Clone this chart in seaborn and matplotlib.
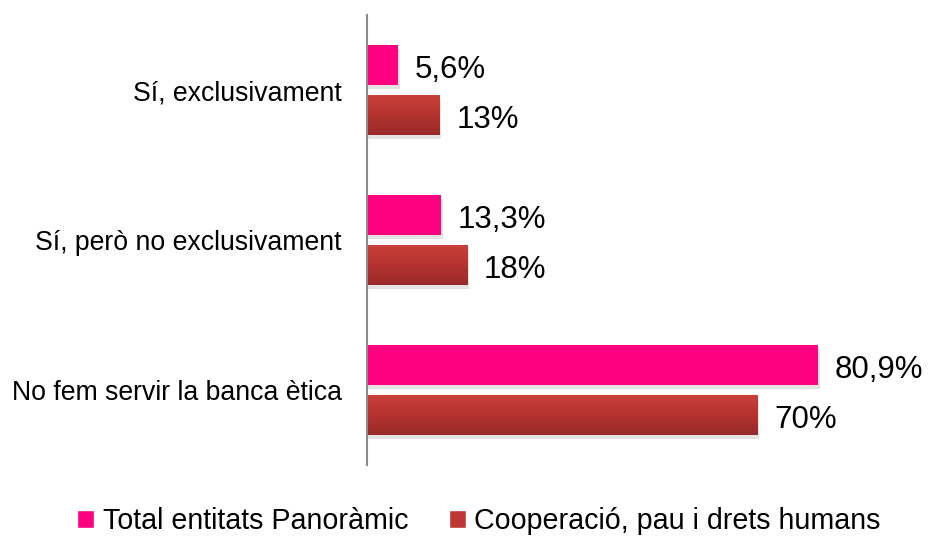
import numpy as np
import pandas as pd
import matplotlib
matplotlib.use("Agg")
import matplotlib.pyplot as plt
import matplotlib.patheffects as pe
from matplotlib.colors import LinearSegmentedColormap
from matplotlib.patches import Patch
import seaborn as sns

categories = ["Sí, exclusivament", "Sí, però no exclusivament", "No fem servir la banca ètica"]
series = ["Total entitats Panoràmic", "Cooperació, pau i drets humans"]
total_vals = [5.6, 13.3, 80.9]
coop_vals = [13, 18, 70]
total_labels = ["5,6%", "13,3%", "80,9%"]
coop_labels = ["13%", "18%", "70%"]

PINK = "#FF0080"
RED = "#BE3733"

df = pd.DataFrame({
    "cat": categories * 2,
    "serie": [series[0]] * 3 + [series[1]] * 3,
    "val": total_vals + coop_vals,
})

sns.set_style("white")
plt.rcParams["font.family"] = ["Liberation Sans", "DejaVu Sans"]
plt.rcParams["text.color"] = "black"
plt.rcParams["ytick.color"] = "black"

fig = plt.figure(figsize=(9.3, 5.39), dpi=100)
ax = fig.add_axes([0.3946, 0.137, 0.6, 0.835])

sns.barplot(data=df, x="val", y="cat", hue="serie", orient="h",
            palette={series[0]: PINK, series[1]: RED}, saturation=1,
            width=0.667, gap=0.2, ax=ax, legend=False)

# gradient fill on the second series + soft shadow on all bars
cmap = LinearSegmentedColormap.from_list("redgrad", ["#CB413B", "#B5332F", "#992A2A"])
grad = np.linspace(0, 1, 64).reshape(-1, 1)
for patch in ax.containers[1]:
    x0, y0 = patch.get_x(), patch.get_y()
    w, h = patch.get_width(), patch.get_height()
    im = ax.imshow(grad, cmap=cmap, aspect="auto", extent=[x0, x0 + w, y0 + h, y0],
                   origin="upper", zorder=patch.get_zorder() + 0.1)
    im.set_clip_path(patch)
for cont in ax.containers:
    for patch in cont:
        patch.set_edgecolor("none")
        patch.set_path_effects([pe.SimplePatchShadow(offset=(1, -3), alpha=0.15, shadow_rgbFace="#444444"), pe.Normal()])
ax.set_xlim(0, 100)
ax.set_ylim(2.5, -0.5)

for cont, labs in zip(ax.containers, [total_labels, coop_labels]):
    texts = ax.bar_label(cont, labels=labs, padding=12, fontsize=22.5, color="black")
    for t in texts:
        t.xyann = (12, -3.5)

ax.set_xlabel("")
ax.set_ylabel("")
ax.set_xticks([])
ax.tick_params(axis="y", length=0, pad=18, labelsize=19.2, labelcolor="black")
for s in ["top", "right", "bottom"]:
    ax.spines[s].set_visible(False)
ax.spines["left"].set_color("#8C8C8C")
ax.spines["left"].set_linewidth(1.5)

handles = [Patch(facecolor=PINK), Patch(facecolor=RED)]
fig.legend(handles, series, loc="center", bbox_to_anchor=(0.515, 0.033), ncol=2,
           frameon=False, fontsize=20.6, handlelength=0.6, handleheight=0.6,
           handletextpad=0.3, columnspacing=1.4, labelcolor="black")

fig.savefig("out.png", dpi=100)
